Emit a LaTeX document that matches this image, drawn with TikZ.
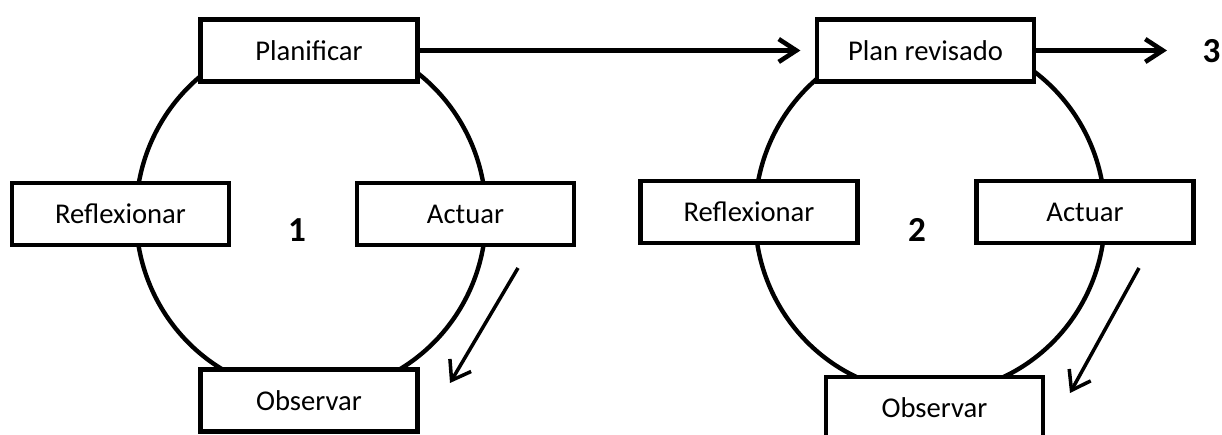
\documentclass[tikz,border=0pt]{standalone}
\usepackage{fontspec}
\setmainfont{Carlito}
\usetikzlibrary{arrows.meta}

\tikzset{
  stage/.style={draw, line width=2.8pt, fill=white, inner sep=0pt,
    minimum width=4.34cm, minimum height=1.24cm,
    font=\fontsize{16.3}{19}\selectfont},
  round/.style={font=\fontsize{20}{24}\selectfont\bfseries},
  loop/.style={line width=2.5pt},
  flow/.style={line width=2.6pt, -{Straight Barb[length=10pt,width=13pt]}},
  turn/.style={line width=2pt, -{Straight Barb[length=10pt,width=14pt]}}
}

\begin{document}
\begin{tikzpicture}
  \useasboundingbox (0,0) rectangle (24.44,8.7);
  \clip (0,0) rectangle (24.44,8.7);
  \coordinate (c1) at (6.22,4.4);
  \coordinate (c2) at (18.6,4.4);
  \draw[loop] (c1) ellipse [x radius=3.5, y radius=3.58];
  \draw[loop] (c2) ellipse [x radius=3.5, y radius=3.57];
  \node[stage] (plan1) at (6.18,7.69) {Planificar};
  \node[stage] (refl1) at (2.41,4.42) {Reflexionar};
  \node[stage] (act1) at (9.31,4.42) {Actuar};
  \node[stage] (obs1) at (6.18,0.69) {Observar};
  \node[round] (n1) at (5.94,4.1) {1};
  \node[stage] (plan2) at (18.51,7.69) {Plan revisado};
  \node[stage] (refl2) at (14.98,4.46) {Reflexionar};
  \node[stage] (act2) at (21.7,4.46) {Actuar};
  \node[stage] (obs2) at (18.69,0.54) {Observar};
  \node[round] (n2) at (18.34,4.1) {2};
  \node[round] (n3) at (24.23,7.68) {3};
  \coordinate (end3) at (23.34,7.69);
  \coordinate (s1) at (10.36,3.34);
  \coordinate (e1) at (9.0,1.04);
  \coordinate (s2) at (22.78,3.34);
  \coordinate (e2) at (21.4,0.84);
  \draw[flow, shorten >=8pt] (plan1) -- (plan2);
  \draw[flow] (plan2) -- (end3);
  \draw[turn] (s1) -- (e1);
  \draw[turn] (s2) -- (e2);
\end{tikzpicture}
\end{document}
